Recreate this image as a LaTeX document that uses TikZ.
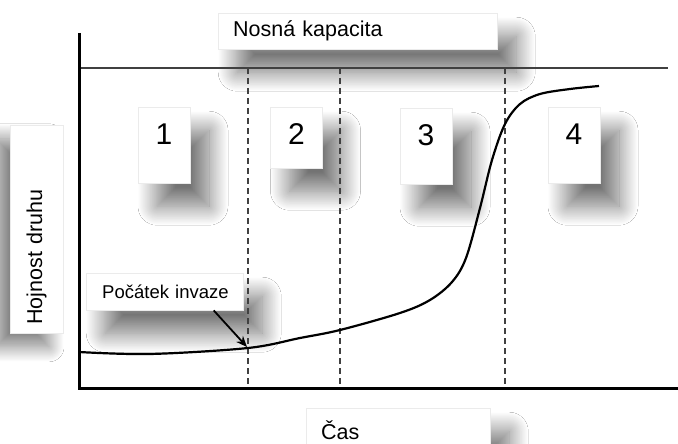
\documentclass[tikz,border=0pt]{standalone}
\usepackage{fontspec}
\setmainfont{Liberation Sans}
\usetikzlibrary{shadows.blur,arrows.meta,calc}
\tikzset{
  panel/.style={fill=white, draw=black!8, line width=0.4pt, inner sep=0pt,
    blur shadow={shadow xshift=19pt, shadow yshift=-23pt, shadow blur radius=19pt,
      shadow blur steps=30, shadow opacity=55}},
  panelrot/.style={fill=white, draw=black!8, line width=0.4pt, inner sep=0pt,
    blur shadow={shadow xshift=-14pt, shadow yshift=-14pt, shadow blur radius=15pt,
      shadow blur steps=30, shadow opacity=50}},
  numbox/.style={panel, minimum width=52pt, text height=37pt, text depth=39pt,
    font=\fontsize{30}{32}\selectfont, anchor=north},
  txt/.style={font=\fontsize{21.5}{24}\selectfont, align=left},
  axis/.style={line width=3pt, black},
  capline/.style={line width=1.5pt, black!75},
  phase/.style={line width=1.2pt, black!75, dash pattern=on 6pt off 4pt},
  growth/.style={line width=2.2pt, black},
  pointer/.style={line width=1.8pt, black, -{Stealth[length=11pt,width=9pt]}}
}
\begin{document}
\begin{tikzpicture}[x=1pt,y=-1pt]
\useasboundingbox (0,0) rectangle (678,444);
\fill[white] (0,0) rectangle (678,444);
% boxes with shadows
\node[panel, txt, anchor=north west, minimum width=279pt, minimum height=36pt,
  text width=249pt, inner xsep=15pt] (cap) at (218,13) {\mbox{Nosná kapacita}};
\node[numbox] (p1) at (164,107) {1};
\node[numbox, text depth=24pt] (p2) at (296.5,107) {2};
\node[numbox] (p3) at (426,108) {3};
\node[numbox] (p4) at (574,107) {4};
\node[panelrot, rotate=90, anchor=west, minimum width=208pt, minimum height=53pt,
  text width=192pt, inner xsep=8pt, align=left, font=\fontsize{21.5}{24}\selectfont] (hoj) at (36.5,333) {\mbox{Hojnost druhu}};
\node[panel, anchor=north west, minimum width=157pt, minimum height=37pt,
  text width=125pt, inner xsep=16pt, align=left, font=\fontsize{18.5}{22}\selectfont] (poc) at (86,273) {\mbox{Počátek invaze}};
\node[panel, txt, anchor=north west, minimum width=184pt, minimum height=44pt,
  text width=154pt, inner xsep=15pt] (cas) at (306,408) {\mbox{Čas}};
% axes and lines
\coordinate (ytop) at (79,33);
\coordinate (org) at (79,388);
\coordinate (xend) at (678,388);
\coordinate (cl) at (79,68);
\coordinate (cr) at (668,68);
\foreach \x/\n in {248/a,340/b,505/c}{
  \coordinate (t\n) at (\x,68);
  \coordinate (b\n) at (\x,388);
  \draw[phase] (t\n) -- (b\n);
}
\draw[capline] (cl) -- (cr);
\draw[axis] (ytop) -- (org) -- (xend);
% curve
\draw[growth] plot[smooth, tension=0.55] coordinates {
  (79,352) (150,354) (248,348) (300,338) (340,330) (400,313) (430,300)
  (452,282) (466,258) (480,208) (492,160) (505,124) (520,104) (540,94)
  (570,89) (599,86)};
\coordinate (inv) at (247,347);
\draw[pointer] ([xshift=49pt]poc.south) -- (inv);
\end{tikzpicture}
\end{document}
